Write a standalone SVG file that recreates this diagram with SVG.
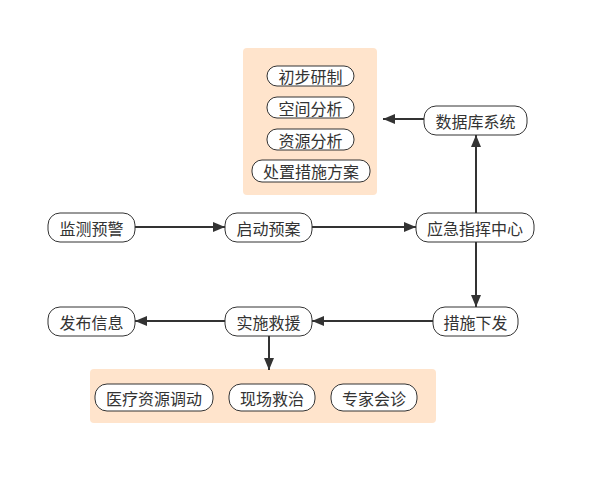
<svg xmlns="http://www.w3.org/2000/svg" width="597" height="485" viewBox="0 0 597 485">
<style>
.grp{fill:#FFE4CC;stroke:none}
.node{fill:#fff;stroke:#333;stroke-width:1}
.t{font-family:"Noto Sans CJK SC","Noto Sans",sans-serif;font-size:16px;fill:#333;text-anchor:middle;dominant-baseline:central}
.c{stroke:#333;stroke-width:2;fill:none;marker-end:url(#ah)}
</style>
<defs>
<marker id="ah" viewBox="0 0 12 10" refX="12" refY="5" markerWidth="12" markerHeight="10" markerUnits="userSpaceOnUse" orient="auto">
<path d="M0,0 L12,5 L0,10 Z" fill="#333"/>
</marker>
</defs>
<rect width="597" height="485" fill="#fff"/>
<g id="group-top">
<rect class="grp" x="243" y="48" width="134" height="147" rx="4"/>
</g>
<g id="group-bottom">
<rect class="grp" x="90" y="369" width="346" height="54" rx="4"/>
</g>
<g id="connectors">
<line class="c" x1="135" y1="227" x2="225" y2="227"/>
<line class="c" x1="312" y1="227" x2="416" y2="227"/>
<line class="c" x1="476" y1="213" x2="476" y2="135"/>
<line class="c" x1="424" y1="119" x2="383" y2="119"/>
<line class="c" x1="476" y1="242" x2="476" y2="307"/>
<line class="c" x1="433" y1="321" x2="312" y2="321"/>
<line class="c" x1="225" y1="321" x2="135" y2="321"/>
<line class="c" x1="269" y1="336" x2="269" y2="370"/>
</g>
<g id="n-chubu"><rect class="node" x="267" y="66" width="87" height="20" rx="10"/><text class="t" x="310.5" y="76">初步研制</text></g>
<g id="n-kongjian"><rect class="node" x="267" y="97" width="87" height="21" rx="10"/><text class="t" x="310.5" y="107.5">空间分析</text></g>
<g id="n-ziyuan"><rect class="node" x="267" y="129" width="87" height="21" rx="10"/><text class="t" x="310.5" y="139.5">资源分析</text></g>
<g id="n-chuzhi"><rect class="node" x="252" y="160" width="118" height="22" rx="10"/><text class="t" x="311" y="171">处置措施方案</text></g>
<g id="n-shujuku"><rect class="node" x="424" y="106" width="103" height="29" rx="12"/><text class="t" x="475.5" y="120.5">数据库系统</text></g>
<g id="n-jiance"><rect class="node" x="48" y="213" width="87" height="29" rx="12"/><text class="t" x="91.5" y="227.5">监测预警</text></g>
<g id="n-qidong"><rect class="node" x="225" y="213" width="87" height="29" rx="12"/><text class="t" x="268.5" y="227.5">启动预案</text></g>
<g id="n-yingji"><rect class="node" x="416" y="213" width="118" height="29" rx="12"/><text class="t" x="475" y="227.5">应急指挥中心</text></g>
<g id="n-cuoshi"><rect class="node" x="433" y="307" width="85" height="29" rx="12"/><text class="t" x="475.5" y="321.5">措施下发</text></g>
<g id="n-shishi"><rect class="node" x="225" y="307" width="87" height="29" rx="12"/><text class="t" x="268.5" y="321.5">实施救援</text></g>
<g id="n-fabu"><rect class="node" x="48" y="307" width="87" height="29" rx="12"/><text class="t" x="91.5" y="321.5">发布信息</text></g>
<g id="n-yiliao"><rect class="node" x="95" y="384" width="118" height="27" rx="12"/><text class="t" x="154" y="397.5">医疗资源调动</text></g>
<g id="n-xianchang"><rect class="node" x="229" y="384" width="86" height="27" rx="12"/><text class="t" x="272" y="397.5">现场救治</text></g>
<g id="n-zhuanjia"><rect class="node" x="331" y="384" width="86" height="27" rx="12"/><text class="t" x="374" y="397.5">专家会诊</text></g>
</svg>
